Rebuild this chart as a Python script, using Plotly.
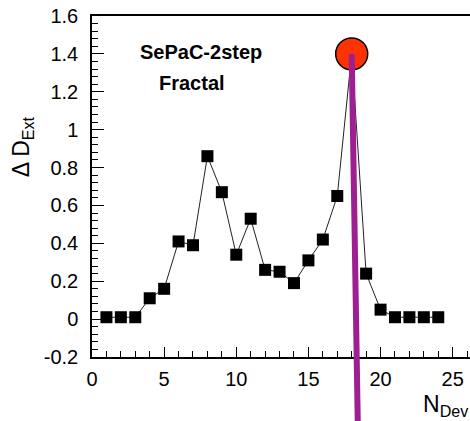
import plotly.graph_objects as go

n_dev = list(range(1, 25))
delta_d = [0.01, 0.01, 0.01, 0.11, 0.16, 0.41, 0.39, 0.86, 0.67, 0.34, 0.53, 0.26,
           0.25, 0.19, 0.31, 0.42, 0.65, 1.40, 0.24, 0.05, 0.01, 0.01, 0.01, 0.01]
peak_x = 18
peak_y = 1.40
x_range = [0, 26.2]
y_range = [-0.2, 1.6]
x_ticks = [0, 5, 10, 15, 20, 25]
x_tick_labels = ["0", "5", "10", "15", "20", "25"]
y_ticks = [-0.2, 0, 0.2, 0.4, 0.6, 0.8, 1.0, 1.2, 1.4, 1.6]
y_tick_labels = ["-0.2", "0", "0.2", "0.4", "0.6", "0.8", "1", "1.2", "1.4", "1.6"]

fig = go.Figure()
fig.add_trace(go.Scatter(
    x=n_dev, y=delta_d, mode="lines+markers",
    line=dict(color="#222222", width=1),
    marker=dict(symbol="square", size=12, color="black"),
    showlegend=False, cliponaxis=False))
fig.add_trace(go.Scatter(
    x=[peak_x], y=[peak_y], mode="markers",
    marker=dict(symbol="circle", size=32, color="#FF3300",
                line=dict(color="black", width=1.5)),
    showlegend=False, cliponaxis=False))

def to_paper(v):
    return (v - y_range[0]) / (y_range[1] - y_range[0])

fig.add_shape(type="line", xref="x", yref="paper",
              x0=peak_x, y0=to_paper(peak_y), x1=peak_x + 0.42, y1=-0.19,
              line=dict(color="#9E1F92", width=6), layer="above")

font = "Liberation Sans, Arial, sans-serif"
fig.update_layout(
    width=470, height=421,
    margin=dict(l=92, r=0, t=16, b=64),
    paper_bgcolor="white", plot_bgcolor="white",
    font=dict(family=font, color="black", size=19),
    xaxis=dict(range=x_range, showline=True, linecolor="black", linewidth=1.5,
               mirror=True, ticks="inside", ticklen=10, tickwidth=1, tickcolor="black",
               tickvals=x_ticks, ticktext=x_tick_labels, showgrid=False, zeroline=False,
               minor=dict(ticks="inside", ticklen=6, dtick=1, tickcolor="black", showgrid=False),
               tickfont=dict(size=20), ticklabelstandoff=3),
    yaxis=dict(range=y_range, showline=True, linecolor="black", linewidth=1.5,
               mirror=False, ticks="inside", ticklen=12, tickwidth=1, tickcolor="black",
               tickvals=y_ticks, ticktext=y_tick_labels, showgrid=False, zeroline=False,
               minor=dict(ticks="inside", ticklen=6, dtick=0.04, tick0=0, tickcolor="black", showgrid=False),
               tickfont=dict(size=20), ticklabelstandoff=8),
)

fig.add_annotation(text="Δ D<sub>Ext</sub>", xref="paper", yref="paper",
                   x=-0.185, y=0.615, textangle=-90, showarrow=False,
                   font=dict(size=23), xanchor="center", yanchor="middle")
fig.add_annotation(text="N<sub>Dev</sub>", xref="paper", yref="paper",
                   x=0.87, y=-0.095, showarrow=False, xanchor="left", yanchor="top",
                   font=dict(size=23))
fig.add_annotation(text="<b>SePaC-2step</b>", xref="x", yref="y", x=3.2, y=1.41,
                   showarrow=False, xanchor="left", yanchor="middle", font=dict(size=20))
fig.add_annotation(text="<b>Fractal</b>", xref="x", yref="y", x=4.5, y=1.246,
                   showarrow=False, xanchor="left", yanchor="middle", font=dict(size=20))

fig.write_html("out.html")
